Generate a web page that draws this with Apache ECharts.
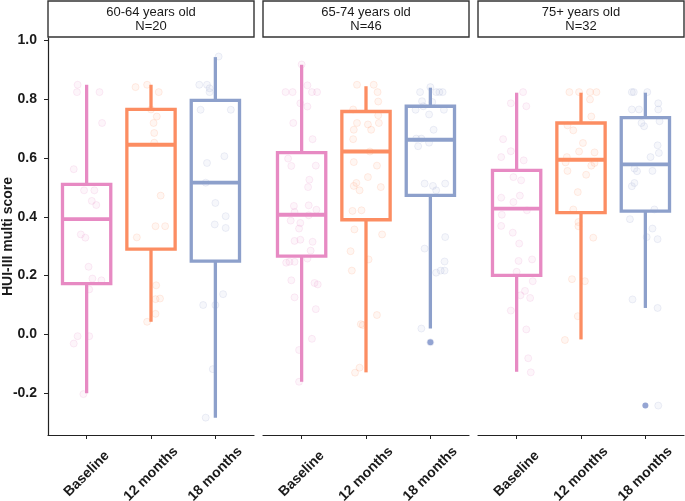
<!DOCTYPE html>
<html>
<head>
<meta charset="utf-8">
<script src="https://cdn.jsdelivr.net/npm/echarts@6/dist/echarts.min.js"></script>
<style>
  html, body { margin: 0; padding: 0; background: #fff; }
  #chart { width: 685px; height: 501px; }
</style>
</head>
<body>
<div id="chart"></div>
<script>
// categories
const timepoints = ['Baseline', '12 months', '18 months'];
const ageGroups = ['60-64 years old', '65-74 years old', '75+ years old'];
const groupN = [20, 46, 32];
const yTicks = [-0.2, 0, 0.2, 0.4, 0.6, 0.8, 1.0];

// box stats per age group: [lower whisker, q1, median, q3, upper whisker]
const boxes6064 = [[-0.200, 0.173, 0.392, 0.510, 0.849], [0.043, 0.290, 0.645, 0.765, 0.849], [-0.283, 0.249, 0.516, 0.796, 0.943]];
const boxes6574 = [[-0.161, 0.266, 0.407, 0.618, 0.917], [-0.129, 0.390, 0.622, 0.758, 0.844], [0.020, 0.473, 0.662, 0.776, 0.839]];
const boxes75 = [[-0.127, 0.201, 0.428, 0.558, 0.822], [-0.017, 0.414, 0.594, 0.719, 0.822], [0.090, 0.419, 0.578, 0.737, 0.822]];

// outliers: [timepoint number, score]
const outliers6064 = [];
const outliers6574 = [[3, -0.027]];
const outliers75 = [[3, -0.242]];

// jittered raw scores: [jitter, score]
const pts6064Base = [[-0.14, 0.849], [-0.15, 0.824], [0.20, 0.824], [0.24, 0.719], [-0.20, 0.562], [-0.04, 0.490], [0.12, 0.490], [0.08, 0.454], [0.15, 0.440], [-0.09, 0.340], [-0.02, 0.329], [0.03, 0.230], [0.09, 0.190], [0.23, 0.184], [0.04, 0.153], [-0.14, -0.006], [0.04, -0.006], [-0.20, -0.031], [-0.05, -0.203]];
const pts6064M12 = [[-0.24, 0.841], [-0.06, 0.849], [0.12, 0.824], [0.00, 0.765], [0.09, 0.741], [0.04, 0.719], [0.05, 0.685], [0.05, 0.652], [0.15, 0.472], [0.07, 0.368], [0.22, 0.368], [-0.22, 0.330], [0.08, 0.167], [0.07, 0.120], [0.14, 0.122], [0.07, 0.070], [-0.06, 0.043]];
const pts6064M18 = [[0.05, 0.945], [-0.25, 0.849], [-0.13, 0.849], [-0.09, 0.837], [-0.09, 0.824], [-0.23, 0.764], [0.24, 0.764], [0.14, 0.606], [-0.13, 0.583], [-0.15, 0.516], [0.00, 0.447], [0.16, 0.402], [-0.01, 0.374], [0.16, 0.362], [0.12, 0.137], [-0.19, 0.100], [0.00, 0.100], [-0.04, -0.118], [-0.15, -0.283]];

const pts6574Base = [[0.00, 0.918], [-0.25, 0.824], [-0.14, 0.824], [0.09, 0.847], [0.16, 0.824], [0.24, 0.824], [-0.02, 0.786], [0.09, 0.775], [-0.13, 0.719], [0.17, 0.664], [-0.21, 0.598], [-0.16, 0.573], [0.22, 0.574], [0.12, 0.526], [0.10, 0.501], [-0.12, 0.437], [0.11, 0.439], [0.23, 0.424], [-0.11, 0.416], [-0.17, 0.387], [-0.02, 0.379], [0.11, 0.405], [-0.04, 0.360], [-0.11, 0.318], [-0.02, 0.322], [0.17, 0.315], [0.14, 0.285], [0.09, 0.258], [-0.24, 0.244], [-0.19, 0.247], [-0.11, 0.247], [-0.16, 0.184], [0.20, 0.175], [0.25, 0.170], [-0.11, 0.126], [0.22, 0.086], [0.16, -0.015], [-0.04, -0.053], [-0.04, -0.161]];
const pts6574M12 = [[-0.14, 0.849], [0.12, 0.849], [0.18, 0.824], [0.19, 0.792], [-0.20, 0.765], [0.19, 0.745], [-0.14, 0.719], [0.03, 0.714], [0.20, 0.719], [-0.19, 0.696], [0.08, 0.696], [-0.20, 0.664], [0.06, 0.622], [-0.19, 0.586], [0.17, 0.574], [0.03, 0.535], [-0.15, 0.515], [-0.19, 0.505], [-0.10, 0.490], [0.23, 0.501], [-0.21, 0.420], [-0.07, 0.422], [-0.18, 0.357], [0.25, 0.340], [-0.24, 0.283], [0.04, 0.255], [-0.22, 0.217], [0.17, 0.066], [-0.08, 0.035], [-0.05, 0.032], [-0.10, -0.113], [-0.17, -0.130]];
const pts6574M18 = [[0.00, 0.841], [-0.16, 0.824], [0.09, 0.824], [0.14, 0.824], [0.19, 0.824], [-0.13, 0.793], [0.03, 0.790], [-0.11, 0.776], [-0.23, 0.764], [0.21, 0.764], [-0.02, 0.748], [0.05, 0.696], [-0.22, 0.666], [-0.14, 0.666], [-0.02, 0.652], [-0.19, 0.640], [-0.09, 0.513], [0.04, 0.505], [0.23, 0.513], [0.09, 0.490], [0.23, 0.331], [-0.09, 0.292], [0.22, 0.248], [0.09, 0.210], [0.16, 0.217], [0.22, 0.217], [-0.14, 0.020], [0.00, -0.027]];

const pts75Base = [[0.10, 0.824], [-0.09, 0.786], [0.15, 0.776], [-0.21, 0.664], [-0.09, 0.623], [-0.24, 0.603], [0.11, 0.592], [-0.05, 0.535], [0.07, 0.524], [0.05, 0.472], [-0.24, 0.465], [-0.05, 0.450], [0.16, 0.422], [-0.23, 0.407], [-0.24, 0.369], [-0.06, 0.346], [0.04, 0.309], [0.03, 0.250], [0.24, 0.255], [0.00, 0.213], [0.25, 0.181], [0.13, 0.148], [0.06, 0.133], [0.21, 0.124], [-0.09, 0.081], [0.15, 0.017], [0.18, -0.081], [0.22, -0.129]];
const pts75M12 = [[-0.18, 0.824], [-0.03, 0.824], [0.14, 0.824], [0.24, 0.824], [0.14, 0.799], [0.16, 0.741], [-0.21, 0.711], [-0.12, 0.694], [0.03, 0.651], [-0.03, 0.622], [0.21, 0.619], [-0.22, 0.603], [-0.24, 0.585], [0.16, 0.574], [0.21, 0.583], [-0.21, 0.556], [0.08, 0.543], [-0.05, 0.484], [-0.12, 0.425], [-0.04, 0.382], [-0.04, 0.368], [0.19, 0.329], [-0.14, 0.188], [0.06, 0.181], [-0.05, 0.062], [-0.25, -0.019]];
const pts75M18 = [[-0.21, 0.824], [-0.18, 0.824], [0.03, 0.824], [0.20, 0.786], [-0.21, 0.765], [-0.10, 0.765], [0.20, 0.765], [0.22, 0.725], [-0.06, 0.719], [-0.02, 0.708], [0.19, 0.643], [0.21, 0.617], [0.08, 0.603], [-0.17, 0.564], [-0.13, 0.555], [0.11, 0.556], [-0.17, 0.515], [-0.21, 0.504], [0.14, 0.425], [-0.24, 0.392], [0.11, 0.360], [0.02, 0.331], [0.19, 0.324], [-0.20, 0.119], [0.19, 0.090], [0.20, -0.242]];

const timeColors = ['#e78ac3', '#fc8d62', '#8da0cb'];
const outlierColor = '#7b8fc8';
const font = '"Liberation Sans", Arial, sans-serif';

const panels = [
  { boxes: boxes6064, outliers: outliers6064, pts: [pts6064Base, pts6064M12, pts6064M18] },
  { boxes: boxes6574, outliers: outliers6574, pts: [pts6574Base, pts6574M12, pts6574M18] },
  { boxes: boxes75, outliers: outliers75, pts: [pts75Base, pts75M12, pts75M18] }
];

const panelLeft = [48, 263, 478];
const panelWidth = 206;
const panelTop = 38;
const panelHeight = 397;

function rgba(hex, a) {
  const n = parseInt(hex.slice(1), 16);
  return 'rgba(' + (n >> 16) + ',' + ((n >> 8) & 255) + ',' + (n & 255) + ',' + a + ')';
}

function renderBox(params, api) {
  const x = api.value(0);
  const half = api.size([0.75, 0])[0] / 2;
  const lo = api.coord([x, api.value(1)]);
  const q1 = api.coord([x, api.value(2)]);
  const med = api.coord([x, api.value(3)]);
  const q3 = api.coord([x, api.value(4)]);
  const hi = api.coord([x, api.value(5)]);
  const color = timeColors[params.dataIndex];
  const st = { stroke: color, lineWidth: 3.3, fill: null };
  return {
    type: 'group',
    children: [
      { type: 'line', shape: { x1: lo[0], y1: lo[1], x2: q1[0], y2: q1[1] }, style: st },
      { type: 'line', shape: { x1: q3[0], y1: q3[1], x2: hi[0], y2: hi[1] }, style: st },
      { type: 'rect', shape: { x: q3[0] - half, y: q3[1], width: half * 2, height: q1[1] - q3[1] }, style: st },
      { type: 'line', shape: { x1: med[0] - half, y1: med[1], x2: med[0] + half, y2: med[1] }, style: { stroke: color, lineWidth: 3.8 } }
    ]
  };
}

const grids = [], xAxes = [], yAxes = [], series = [], graphics = [];

panels.forEach((p, i) => {
  grids.push({
    left: panelLeft[i], top: panelTop, width: panelWidth, height: panelHeight,
    containLabel: false, outerBoundsMode: 'none'
  });
  xAxes.push({
    type: 'value', gridIndex: i, min: 0.4, max: 3.6,
    axisLine: { show: true, onZero: false, lineStyle: { color: '#222', width: 1.2 } },
    axisTick: { show: true, customValues: [1, 2, 3], length: 4, lineStyle: { color: '#222', width: 1 } },
    axisLabel: {
      customValues: [1, 2, 3],
      formatter: v => timepoints[Math.round(v) - 1],
      rotate: 45, align: 'center', verticalAlign: 'middle', margin: 39,
      fontFamily: font, fontSize: 14, fontWeight: 'bold', color: '#1a1a1a'
    },
    splitLine: { show: false }
  });
  yAxes.push({
    type: 'value', gridIndex: i, min: -0.342, max: 1.008,
    name: i === 0 ? 'HUI-III multi score' : '',
    nameLocation: 'middle', nameGap: 33, nameMoveOverlap: false,
    nameTextStyle: { fontFamily: font, fontSize: 14, fontWeight: 'bold', color: '#1a1a1a' },
    axisLine: { show: i === 0, onZero: false, lineStyle: { color: '#222', width: 1.2 } },
    axisTick: { show: i === 0, customValues: yTicks, length: 4, lineStyle: { color: '#222', width: 1 } },
    axisLabel: {
      show: i === 0, customValues: yTicks, margin: 11,
      formatter: v => v.toFixed(1),
      fontFamily: font, fontSize: 14, fontWeight: 'bold', color: '#1a1a1a'
    },
    splitLine: { show: false }
  });

  p.pts.forEach((arr, t) => {
    series.push({
      type: 'scatter', xAxisIndex: i, yAxisIndex: i, silent: true, z: 2,
      symbolSize: 7,
      itemStyle: { color: rgba(timeColors[t], 0.1), borderColor: rgba(timeColors[t], 0.24), borderWidth: 0.8 },
      data: arr.map(d => [t + 1 + d[0], d[1]])
    });
  });

  series.push({
    type: 'custom', xAxisIndex: i, yAxisIndex: i, silent: true, z: 3,
    renderItem: renderBox,
    data: p.boxes.map((b, t) => [t + 1].concat(b))
  });

  series.push({
    type: 'scatter', xAxisIndex: i, yAxisIndex: i, silent: true, z: 4,
    symbolSize: 6,
    itemStyle: { color: outlierColor },
    data: p.outliers
  });

  // facet strip
  graphics.push({
    type: 'rect', silent: true,
    shape: { x: panelLeft[i], y: 1, width: panelWidth, height: 36 },
    style: { fill: '#fff', stroke: '#333', lineWidth: 1.4 }
  });
  graphics.push({
    type: 'text', silent: true,
    x: panelLeft[i] + panelWidth / 2, y: 19,
    style: {
      text: ageGroups[i] + '\nN=' + groupN[i],
      align: 'center', verticalAlign: 'middle', lineHeight: 14,
      font: '13px ' + font, fill: '#1a1a1a'
    }
  });
});

const chart = echarts.init(document.getElementById('chart'), null, { renderer: 'canvas' });
chart.setOption({
  animation: false,
  backgroundColor: '#fff',
  grid: grids,
  xAxis: xAxes,
  yAxis: yAxes,
  series: series,
  graphic: graphics
});
</script>
</body>
</html>
